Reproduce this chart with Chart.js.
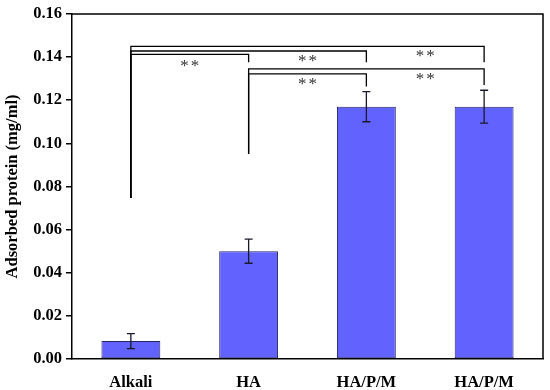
<!DOCTYPE html>
<html>
<head>
<meta charset="utf-8">
<script src="https://cdn.jsdelivr.net/npm/chart.js@4/dist/chart.umd.min.js"></script>
<style>
  html, body { margin: 0; padding: 0; background: #fff; }
  #wrap { width: 550px; height: 390px; }
</style>
</head>
<body>
<div id="wrap"><canvas id="c" width="550" height="390"></canvas></div>
<script>
'use strict';

// values
const categories = ['Alkali', 'HA', 'HA/P/M', 'HA/P/M'];
const adsorbed = [0.0083, 0.050, 0.117, 0.117];
const errors = [0.0035, 0.0056, 0.007, 0.0076];

// significance brackets (category index, heights in mg/ml)
const bracketFrom = [0, 0, 0, 1, 1];
const bracketTo = [3, 2, 1, 3, 2];
const bracketY = [0.1449, 0.1428, 0.1412, 0.1345, 0.1322];
const bracketLeftEnd = [0.0747, 0.0747, 0.0747, 0.095, 0.095];
const bracketRightEnd = [0.1376, 0.1376, 0.1376, 0.127, 0.1263];
const starX = [2.5, 1.5, 0.5, 2.5, 1.5];
const starY = [0.1416, 0.1392, 0.1369, 0.1309, 0.1286];
const starText = ['**', '**', '**', '**', '**'];

const SERIF = '"Liberation Serif", "Times New Roman", serif';

const overlay = {
  id: 'overlay',
  afterDatasetsDraw(chart) {
    const { ctx, chartArea: a, scales: { x, y } } = chart;
    const meta = chart.getDatasetMeta(0);
    ctx.save();

    // error bars
    ctx.strokeStyle = '#1a1a2a';
    ctx.lineWidth = 1.3;
    meta.data.forEach((bar, i) => {
      const cx = bar.x;
      const top = y.getPixelForValue(adsorbed[i] + errors[i]);
      const bot = y.getPixelForValue(adsorbed[i] - errors[i]);
      ctx.beginPath();
      ctx.moveTo(cx, top); ctx.lineTo(cx, bot);
      ctx.moveTo(cx - 4, top); ctx.lineTo(cx + 4, top);
      ctx.moveTo(cx - 4, bot); ctx.lineTo(cx + 4, bot);
      ctx.stroke();
    });

    // brackets
    ctx.strokeStyle = '#000';
    ctx.lineWidth = 1.3;
    bracketY.forEach((v, i) => {
      const x1 = x.getPixelForValue(bracketFrom[i]);
      const x2 = x.getPixelForValue(bracketTo[i]);
      const yy = y.getPixelForValue(v);
      ctx.beginPath();
      ctx.moveTo(x1, y.getPixelForValue(bracketLeftEnd[i]));
      ctx.lineTo(x1, yy);
      ctx.lineTo(x2, yy);
      ctx.lineTo(x2, y.getPixelForValue(bracketRightEnd[i]));
      ctx.stroke();
    });

    ctx.fillStyle = '#333';
    ctx.font = '17px ' + SERIF;
    ctx.textAlign = 'center';
    ctx.textBaseline = 'middle';
    if ('letterSpacing' in ctx) ctx.letterSpacing = '2px';
    starText.forEach((t, i) => {
      ctx.fillText(t, x.getPixelForValue(starX[i]) + 1, y.getPixelForValue(starY[i]) + 3);
    });
    if ('letterSpacing' in ctx) ctx.letterSpacing = '0px';

    // frame top/right
    ctx.strokeStyle = '#000';
    ctx.lineWidth = 1.5;
    ctx.beginPath();
    ctx.moveTo(a.left, a.top); ctx.lineTo(a.right, a.top); ctx.lineTo(a.right, a.bottom);
    ctx.stroke();
    ctx.restore();
  }
};

new Chart(document.getElementById('c'), {
  type: 'bar',
  data: {
    labels: categories,
    datasets: [{
      data: adsorbed,
      backgroundColor: '#6262ff',
      borderColor: '#262660',
      borderWidth: 1,
      borderSkipped: false,
      categoryPercentage: 1,
      barPercentage: 0.5,
    }],
  },
  options: {
    responsive: false,
    animation: false,
    layout: { padding: { top: 12, right: 7, left: 0, bottom: 0 } },
    plugins: { legend: { display: false }, tooltip: { enabled: false } },
    scales: {
      x: {
        grid: { display: false, drawTicks: false },
        border: { color: '#000', width: 1.5 },
        ticks: { color: '#000', padding: 14, font: { family: SERIF, size: 16.5, weight: 'bold' } },
        afterFit: (s) => { s.height = 31; },
      },
      y: {
        min: 0,
        max: 0.16,
        grid: { drawOnChartArea: false, drawTicks: true, tickLength: 6, color: '#000', lineWidth: 1.5 },
        border: { color: '#000', width: 1.5 },
        ticks: {
          stepSize: 0.02,
          color: '#000',
          padding: 4,
          font: { family: SERIF, size: 16.5, weight: 'bold' },
          callback: (v) => v.toFixed(2),
        },
        title: {
          display: true,
          text: 'Adsorbed protein (mg/ml)',
          color: '#000',
          padding: { top: 3, bottom: 0 },
          font: { family: SERIF, size: 16.5, weight: 'bold' },
        },
        afterFit: (s) => { s.width = 72; },
      },
    },
  },
  plugins: [overlay],
});
</script>
</body>
</html>
